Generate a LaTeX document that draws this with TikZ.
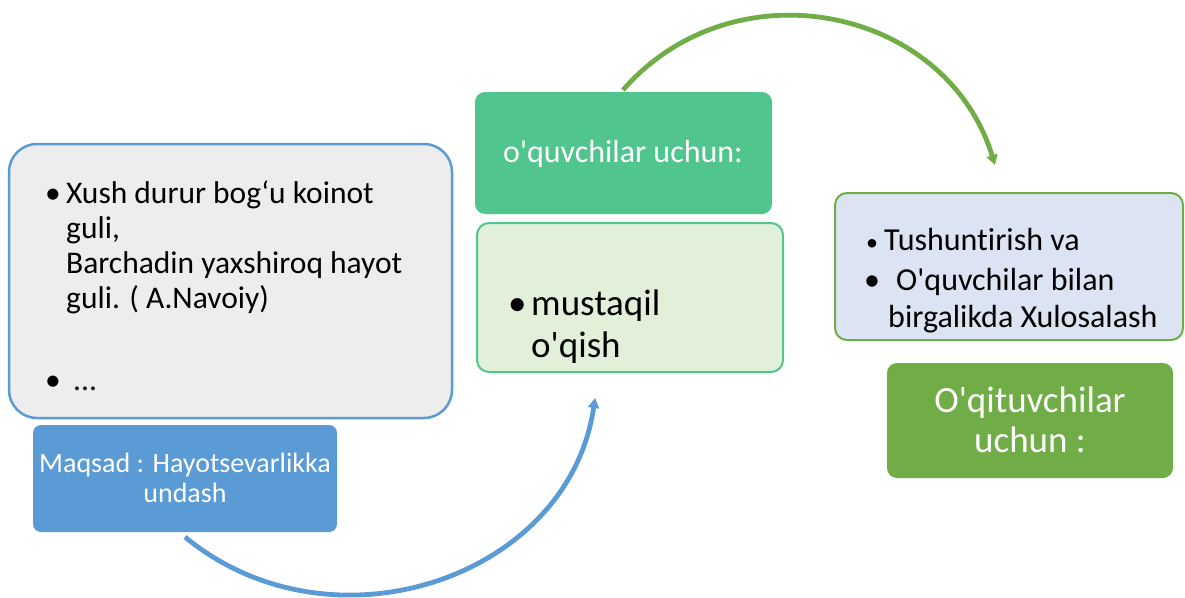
\documentclass[tikz,border=0pt]{standalone}
\usepackage{fontspec}
\setmainfont{Carlito}[Ligatures={TeXOff,CommonOff}]
\usetikzlibrary{arrows.meta}
\definecolor{cblue}{HTML}{5B9BD5}
\definecolor{cgray}{HTML}{EDEDED}
\definecolor{cteal}{HTML}{50C58D}
\definecolor{clgreen}{HTML}{E2F0D9}
\definecolor{clblue}{HTML}{DCE3F3}
\definecolor{cgreen}{HTML}{70AD47}
\begin{document}
\begin{tikzpicture}[x=1pt,y=-1pt,
  panel/.style={rectangle, inner sep=0pt},
  txt/.style={inner sep=0pt, anchor=base west},
  ctxt/.style={inner sep=0pt, anchor=base, text=white},
  arc/.style={line width=4.8pt, -{Triangle[length=10pt,width=11pt]}}]
\path[use as bounding box] (0,0) rectangle (1185,597);

% left poem box
\node[panel, draw=cblue, fill=cgray, line width=2.5pt, rounded corners=28pt,
  minimum width=443pt, minimum height=274pt] (poem) at (230.5,281) {};
\begin{scope}[every node/.style={font=\fontsize{31.5}{36}\selectfont}]
\node[txt] (pb1) at (45,203) {•};
\node[txt] (p1) at (66,203) {Xush durur bog‘u koinot};
\node[txt] (p2) at (66,238) {guli,};
\node[txt] (p3) at (66,273) {Barchadin yaxshiroq hayot};
\node[txt] (p4) at (66,308) {guli. ( A.Navoiy)};
\node[txt] (pb2) at (45,390) {•};
\node[txt] (p5) at (73,390) {...};
\end{scope}

% Maqsad box
\node[panel, fill=cblue, rounded corners=8pt, minimum width=304pt, minimum height=107pt] (maqsad) at (185,478.5) {};
\node[ctxt, font=\fontsize{28}{30}\selectfont] (m1) at (185,472) {Maqsad : Hayotsevarlikka};
\node[ctxt, font=\fontsize{28}{30}\selectfont] (m2) at (185,502) {undash};

% teal box
\node[panel, fill=cteal, rounded corners=10pt, minimum width=297pt, minimum height=122pt] (oquv) at (623.5,153) {};
\node[ctxt, font=\fontsize{32}{36}\selectfont] (o1) at (623,162) {o'quvchilar uchun:};

% light green box
\node[panel, draw=cteal, fill=clgreen, line width=2pt, rounded corners=12pt,
  minimum width=306pt, minimum height=149pt] (must) at (630,297.5) {};
\begin{scope}[every node/.style={font=\fontsize{37}{42}\selectfont}]
\node[txt] (mb) at (508,315) {•};
\node[txt] (mu1) at (531,315) {mustaqil};
\node[txt] (mu2) at (531,357) {o'qish};
\end{scope}

% right box
\node[panel, draw=cgreen, fill=clblue, line width=2pt, rounded corners=12pt,
  minimum width=348pt, minimum height=147pt] (tush) at (1009,266.5) {};
\node[txt, font=\fontsize{24}{28}\selectfont] (tb1) at (866,250) {•};
\begin{scope}[every node/.style={font=\fontsize{32}{36}\selectfont}]
\node[txt] (t1) at (884,250) {Tushuntirish va};
\node[txt] (tb2) at (864,290) {•};
\node[txt] (t2) at (896,290) {O'quvchilar bilan};
\node[txt] (t3) at (888,327) {birgalikda Xulosalash};
\end{scope}

% green box
\node[panel, fill=cgreen, rounded corners=10pt, minimum width=286pt, minimum height=115pt] (oqit) at (1030,420.5) {};
\node[ctxt, font=\fontsize{37}{40}\selectfont] (g1) at (1030,412) {O'qituvchilar};
\node[ctxt, font=\fontsize{37}{40}\selectfont] (g2) at (1030,452) {uchun :};

% connectors
\coordinate (bs) at (185,537);
\coordinate (be) at (595,398);
\coordinate (gs) at (623,90);
\coordinate (ge) at (995,165);
\draw[arc, cblue] (bs) .. controls (332,658) and (569,578) .. (be);
\draw[arc, cgreen] (gs) .. controls (734,-37) and (946,6) .. (ge);
\end{tikzpicture}
\end{document}
